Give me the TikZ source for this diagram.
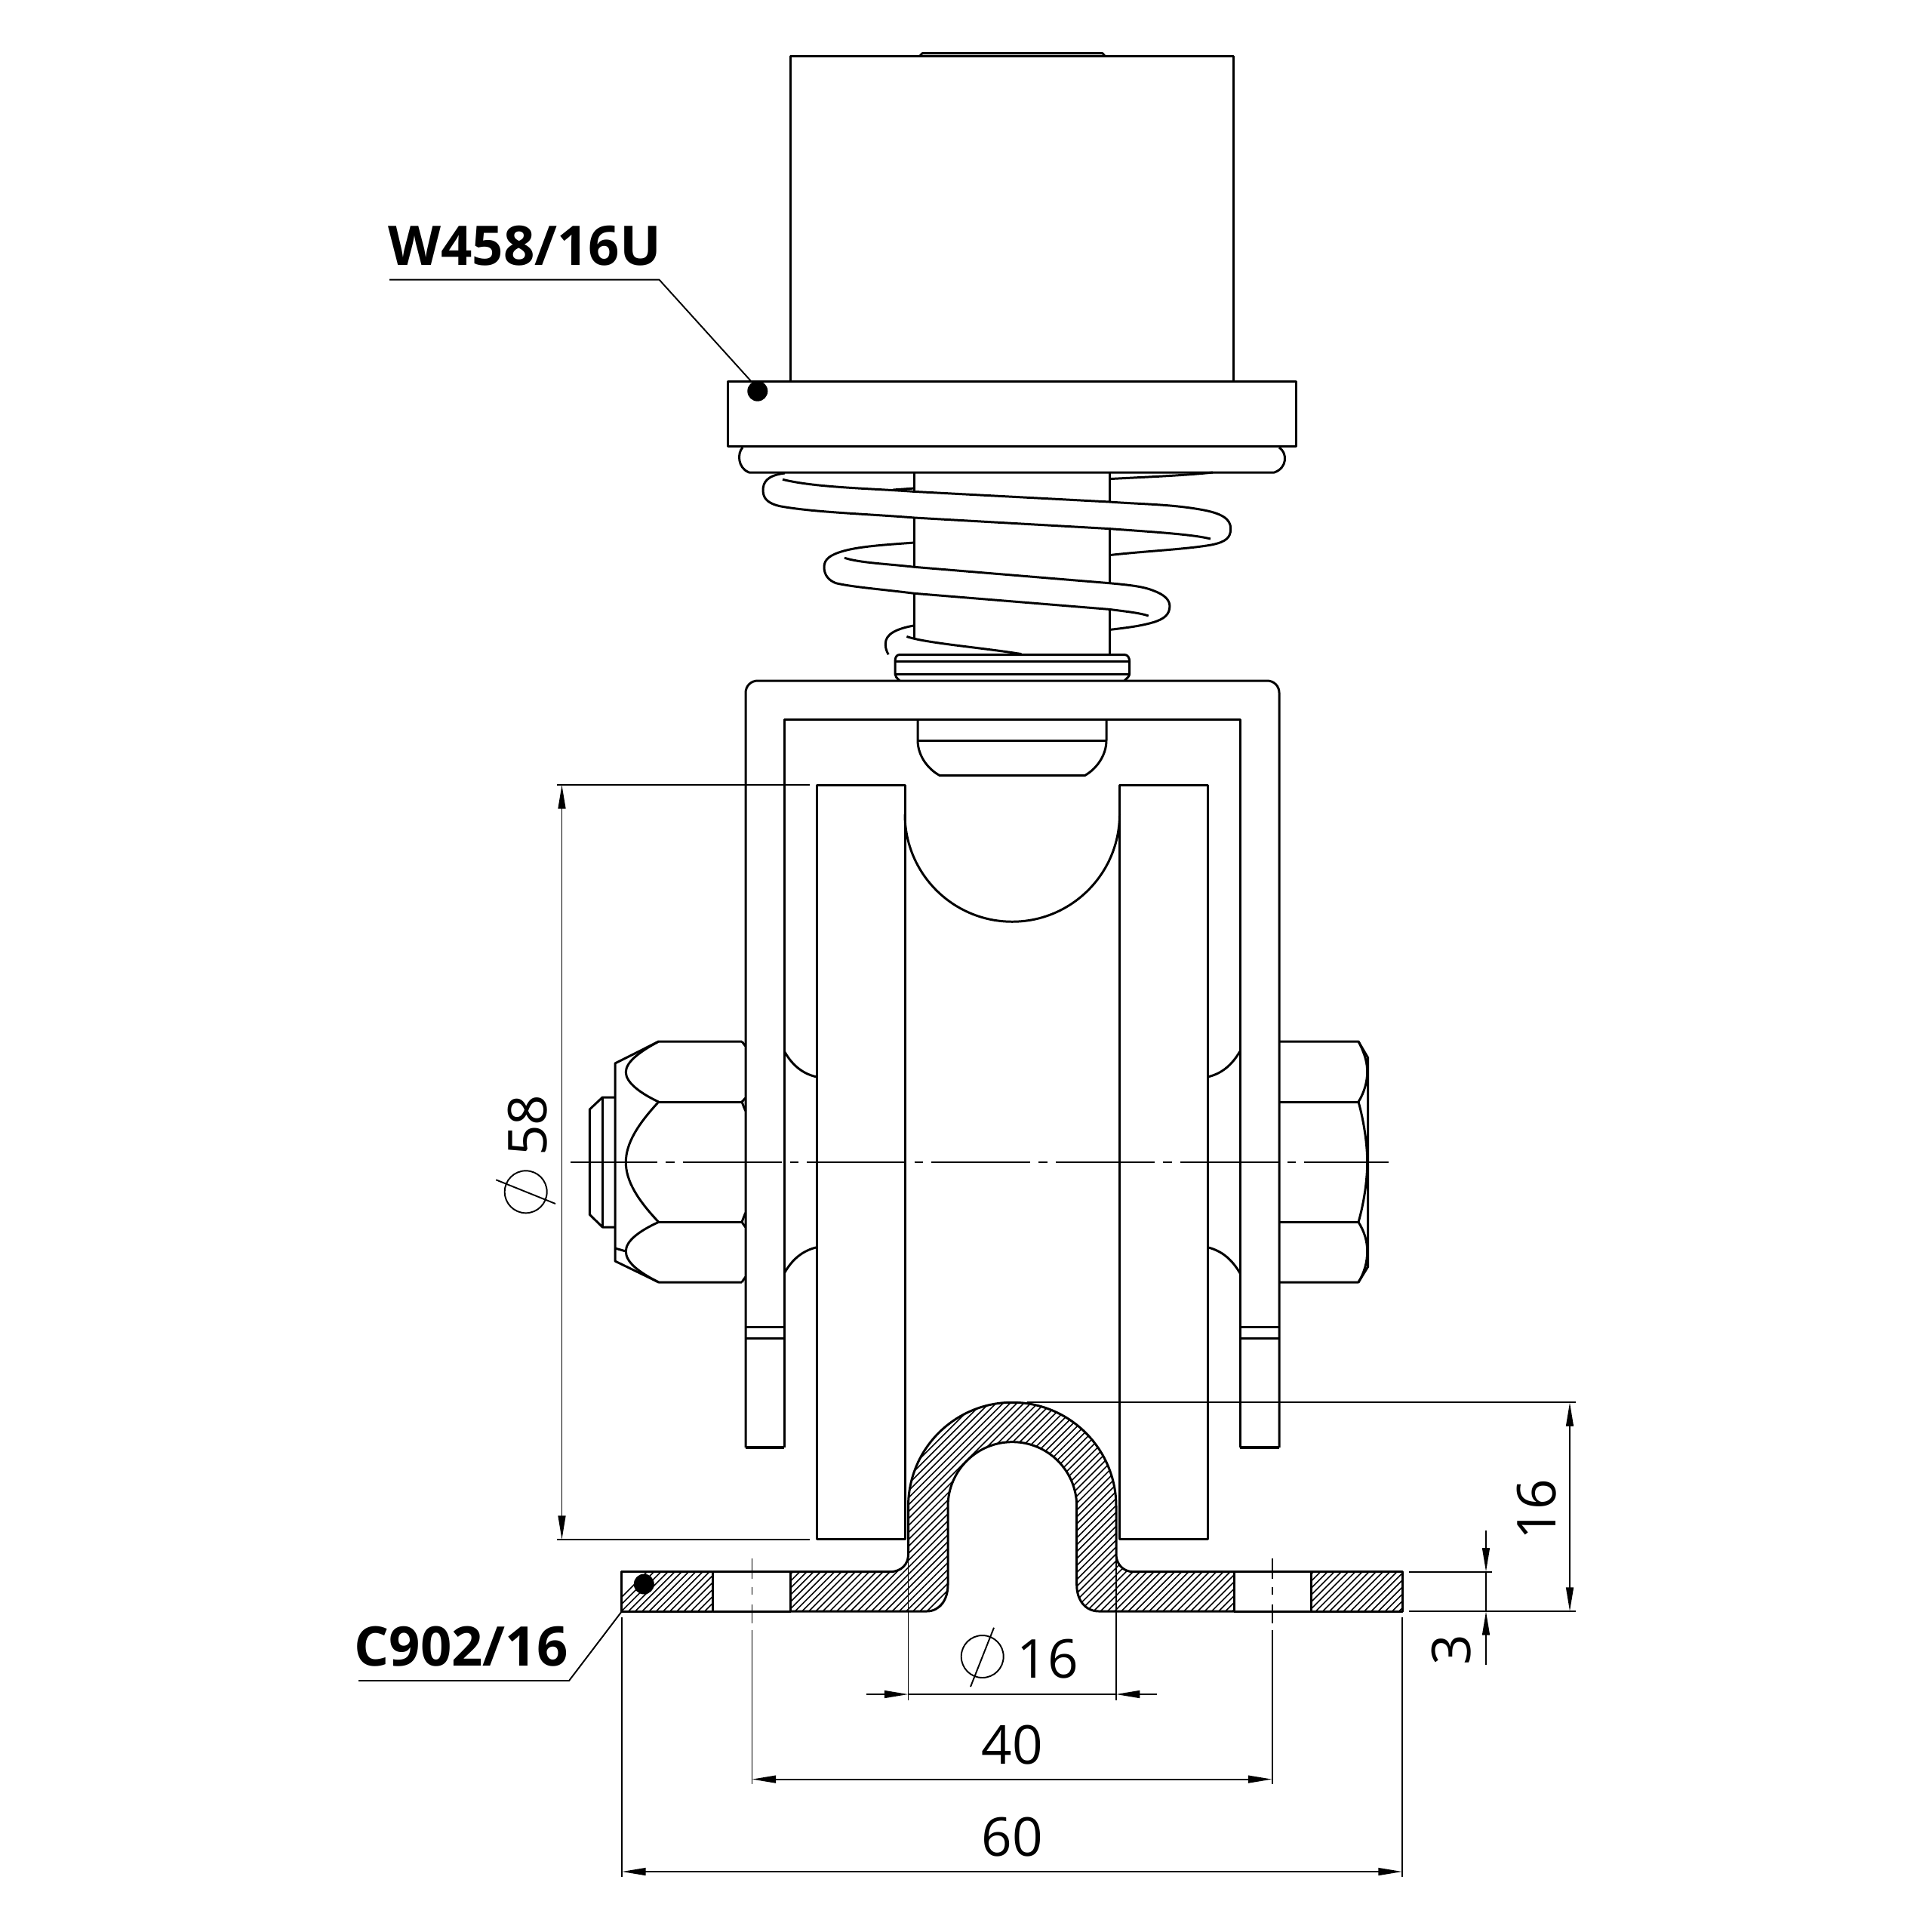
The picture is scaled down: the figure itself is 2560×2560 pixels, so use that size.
\documentclass[tikz,border=0pt]{standalone}
\usepackage{fontspec}
\setmainfont{Open Sans}
\usetikzlibrary{arrows.meta}
\tikzset{
  obj/.style={line width=0.85pt,line join=round},
  thinl/.style={line width=0.55pt},
  dimtxt/.style={inner sep=0pt,font=\fontsize{20.2}{24}\selectfont},
  reftxt/.style={inner sep=0pt,font=\fontsize{20.6}{25}\selectfont\bfseries,anchor=base},
  tipA/.tip={Triangle[length=9pt,width=2.8pt]},
  ctr/.style={line width=0.6pt},
  dimline/.style={thinl,black}
}
\begin{document}
\begin{tikzpicture}[x=0.01cm,y=-0.01cm]
\useasboundingbox (0,0) rectangle (2560,2560);
% upper block
\draw[obj] (1047.8,506) -- (1047.8,74.3) -- (1634,74.3) -- (1634,506);
\draw[obj] (1218.7,74.3) -- (1222,70.7) -- (1461,70.7) -- (1464,74.3);
\draw[obj] (964.5,505.7) rectangle (1717.7,591.8);
% top coil
\draw[obj] (984,593) .. controls (977,600) and (977,620) .. (992.6,626) -- (1688.5,626) .. controls (1706,620) and (1706,600) .. (1695,593);
% shaft
\draw[obj] (1211.5,626) -- (1211.5,651.4) (1211.5,686) -- (1211.5,751.3) (1211.5,786.3) -- (1211.5,846);
\draw[obj] (1470,626) -- (1470,665) (1470,700.6) -- (1470,772.7) (1470,807.4) -- (1470,867.5);
% coil 1
\draw[obj] (1040,627) .. controls (1015,630) and (1011,640) .. (1011,650) .. controls (1011,662) and (1020,668) .. (1035,671) .. controls (1080,679) and (1150,681) .. (1211.5,686) -- (1470,700.6) .. controls (1530,705) and (1580,708) .. (1604,714);
\draw[obj] (1037,635.3) .. controls (1080,646) and (1150,647) .. (1211.5,651.4) -- (1470,665) .. controls (1510,668) and (1550,668) .. (1590,675) .. controls (1620,680) and (1630.7,688) .. (1630.7,700.6) .. controls (1630.7,712) and (1625,718) .. (1605,722) .. controls (1570,728) and (1520,730) .. (1470,735.6);
\draw[obj] (1183.4,649) -- (1211.5,647);
\draw[obj] (1470,634.6) .. controls (1520,632) and (1570,630) .. (1607,626);
% coil 2
\draw[obj] (1211.5,719) .. controls (1170,722) and (1140,724) .. (1118,730) .. controls (1100,735) and (1092,741) .. (1092,751.3) .. controls (1092,762) and (1098,769) .. (1107.6,772.7) .. controls (1130,778) and (1170,781) .. (1211.5,786.3) -- (1470,807.4) .. controls (1490,810) and (1510,812) .. (1521.8,816);
\draw[obj] (1118.9,739.2) .. controls (1140,746) and (1175,747) .. (1211.5,751.3) -- (1470,772.7) .. controls (1495,775) and (1515,777) .. (1528.5,782.7) .. controls (1543,788) and (1549.9,795) .. (1549.9,803) .. controls (1549.9,814) and (1543,820) .. (1528.5,824.5) .. controls (1510,830) and (1490,832) .. (1470,834.5);
% coil 3
\draw[obj] (1211.5,828.8) .. controls (1188,833) and (1173.3,840) .. (1173.3,853) .. controls (1173.3,860) and (1175,863) .. (1177.2,867.3);
\draw[obj] (1201.4,843.4) .. controls (1225,852) and (1300,858) .. (1353.4,866.6);
% lower ring
\draw[obj] (1192,902) .. controls (1188,898) and (1186,896) .. (1186,893) -- (1186,876.4) .. controls (1186,871) and (1188,867.5) .. (1192,867.5) -- (1490,867.5) .. controls (1494,867.5) and (1496.6,871) .. (1496.6,876.4) -- (1496.6,893) .. controls (1496.6,896) and (1494,898) .. (1490,902);
\draw[obj] (1186,876.4) -- (1496.6,876.4) (1186,893) -- (1496.6,893);
% bracket
\draw[obj,rounded corners=4.5pt] (988,1918) -- (988,902) -- (1695,902) -- (1695,1918);
\draw[obj] (1039,1918) -- (1039,953.6) -- (1643,953.6) -- (1643,1918);
\draw[line width=1.3pt] (988,1918) -- (1039,1918) (1643,1918) -- (1695,1918);
\draw[obj] (988,1758) -- (1039,1758) (988,1773.3) -- (1039,1773.3) (1643,1758) -- (1695,1758) (1643,1773.3) -- (1695,1773.3);
% stop
\draw[obj] (1216,953.6) -- (1216,981) .. controls (1216,1000) and (1228,1018) .. (1245,1027.5) -- (1437.6,1027.5) .. controls (1454,1018) and (1466,1000) .. (1466,981) -- (1466,953.6);
\draw[obj] (1216,981) -- (1466,981);
% pulley
\draw[obj] (1082.5,1040) rectangle (1199,2039.5);
\draw[obj] (1483.5,1040) rectangle (1600,2039.5);
\draw[obj] (1199,1079) arc[start angle=180,end angle=0,radius=142.25];
\draw[obj] (1039.3,1393) .. controls (1050,1412) and (1064,1423) .. (1082.3,1427);
\draw[obj] (1039.3,1687) .. controls (1050,1668) and (1064,1657) .. (1082.3,1652.7);
\draw[obj] (1643,1393) .. controls (1632,1412) and (1618,1423) .. (1600,1427);
\draw[obj] (1643,1687) .. controls (1632,1668) and (1618,1657) .. (1600,1652.7);
% left nut
\draw[obj] (983,1380) -- (872.7,1380) -- (815,1409) -- (815,1671) -- (872.7,1699) -- (983,1699);
\draw[obj] (872.7,1460) -- (983,1460) (872.7,1619.3) -- (983,1619.3);
\draw[obj] (983,1380) -- (987.7,1386) (983,1699) -- (987.7,1692);
\draw[obj] (987.7,1455) -- (983,1460) -- (987.7,1472) (987.7,1607) -- (983,1619.3) -- (987.7,1626);
\draw[obj] (872.7,1380) .. controls (845,1395) and (829.3,1408) .. (829.3,1420.7) .. controls (829.3,1433) and (845,1447) .. (872.7,1460) .. controls (845,1490) and (829.3,1515) .. (829.3,1540) .. controls (829.3,1565) and (845,1590) .. (872.7,1619.3) .. controls (845,1632) and (829.3,1645) .. (829.3,1658) .. controls (829.3,1672) and (845,1685) .. (872.7,1699);
\draw[obj] (815,1654) -- (829.3,1658);
\draw[obj] (815,1454) -- (798.3,1454) -- (781.3,1470) -- (781.3,1609.3) -- (798.3,1626) -- (815,1626);
\draw[obj] (798.3,1454) -- (798.3,1626);
% right nut
\draw[obj] (1695,1380) -- (1800,1380) -- (1812.7,1401.7) -- (1812.7,1678.3) -- (1800,1699) -- (1695,1699);
\draw[obj] (1695,1460) -- (1800,1460) (1695,1619.3) -- (1800,1619.3);
\draw[obj] (1800,1380) .. controls (1808,1395) and (1811.7,1408) .. (1811.7,1420) .. controls (1811.7,1433) and (1808,1447) .. (1800,1460) .. controls (1807,1485) and (1811.7,1515) .. (1811.7,1540) .. controls (1811.7,1565) and (1807,1595) .. (1800,1619.3) .. controls (1808,1632) and (1811.7,1645) .. (1811.7,1658) .. controls (1811.7,1672) and (1808,1686) .. (1800,1699);
% bolt centre line
\draw[ctr,dash pattern=on 131*0.2846pt off 11*0.2846pt on 11.6*0.2846pt off 11*0.2846pt,dash phase=16*0.2846pt] (756,1540) -- (1840,1540);
% rail profile
\fill[white] (1047.7,2082.7) -- (1179,2082.7) .. controls (1195,2082.7) and (1203.5,2072) .. (1203.5,2060) -- (1203.5,1996) arc[start angle=180,end angle=360,radius=137.75] -- (1479,2060) .. controls (1479,2072) and (1488,2082.7) .. (1501.8,2082.7) -- (1635,2082.7) -- (1635,2135) -- (1456,2135) .. controls (1438,2135) and (1426.7,2120) .. (1426.7,2100) -- (1426.7,1996) arc[start angle=0,end angle=-180,radius=85.35] -- (1256,2100) .. controls (1256,2120) and (1245,2135) .. (1228,2135) -- (1047.7,2135) -- cycle;
\begin{scope}
\clip (823.9,2082.7) rectangle (944.6,2135) (1635,2082.7) rectangle (1635,2135) (1737.5,2082.7) rectangle (1858,2135)
 (1047.7,2082.7) -- (1179,2082.7) .. controls (1195,2082.7) and (1203.5,2072) .. (1203.5,2060) -- (1203.5,1996) arc[start angle=180,end angle=360,radius=137.75] -- (1479,2060) .. controls (1479,2072) and (1488,2082.7) .. (1501.8,2082.7) -- (1635,2082.7) -- (1635,2135) -- (1456,2135) .. controls (1438,2135) and (1426.7,2120) .. (1426.7,2100) -- (1426.7,1996) arc[start angle=0,end angle=-180,radius=85.35] -- (1256,2100) .. controls (1256,2120) and (1245,2135) .. (1228,2135) -- (1047.7,2135) -- cycle;
\foreach \k in {0,...,130}
  \draw[line width=0.45pt] ({800+9.2*\k},2140) -- ++(300,-300);
\end{scope}
\draw[obj] (1047.7,2082.7) -- (1179,2082.7) .. controls (1195,2082.7) and (1203.5,2072) .. (1203.5,2060) -- (1203.5,1996) arc[start angle=180,end angle=360,radius=137.75] -- (1479,2060) .. controls (1479,2072) and (1488,2082.7) .. (1501.8,2082.7) -- (1635,2082.7);
\draw[obj] (1635,2135) -- (1456,2135) .. controls (1438,2135) and (1426.7,2120) .. (1426.7,2100) -- (1426.7,1996) arc[start angle=0,end angle=-180,radius=85.35] -- (1256,2100) .. controls (1256,2120) and (1245,2135) .. (1228,2135) -- (1047.7,2135);
\draw[obj] (823.9,2082.7) rectangle (944.6,2135);
\draw[obj] (944.6,2082.7) -- (1047.7,2082.7) (944.6,2135) -- (1047.7,2135) (1047.7,2082.7) -- (1047.7,2135);
\draw[obj] (1635,2082.7) -- (1737.5,2082.7) (1635,2135) -- (1737.5,2135) (1635,2082.7) -- (1635,2135);
\draw[obj] (1737.5,2082.7) rectangle (1858,2135);
% section lines and extension lines
\draw[thinl] (1203.5,2060) -- (1203.5,2253) (1478.6,2060) -- (1478.6,2253);
\draw[thinl] (824,2143) -- (824,2487) (1858,2143) -- (1858,2487);
\draw[thinl] (996.5,2065) -- (996.5,2091.7) (996.5,2103) -- (996.5,2113) (996.5,2126) -- (996.5,2150.7) (996.5,2160) -- (996.5,2364);
\draw[thinl] (1685.6,2065) -- (1685.6,2091.7) (1685.6,2103) -- (1685.6,2113) (1685.6,2126) -- (1685.6,2150.7) (1685.6,2160) -- (1685.6,2364);
\draw[thinl] (738,1040) -- (1073,1040) (738,2040) -- (1073,2040);
\draw[thinl] (1361,1858.3) -- (2088,1858.3) (1866.7,2135) -- (2088,2135) (1866.7,2082.7) -- (1977,2082.7);
% dimensions
\draw[dimline,{tipA}-{tipA}] (744.5,1040) -- (744.5,2040);
\draw[dimline,{tipA}-{tipA}] (2080,1858.3) -- (2080,2135);
\draw[dimline,-{tipA}] (1969,2028) -- (1969,2082.7);
\draw[dimline,-{tipA}] (1969,2206) -- (1969,2135);
\draw[dimline] (1969,2082.7) -- (1969,2135);
\draw[dimline,-{tipA}] (1148,2245) -- (1203.5,2245);
\draw[dimline,-{tipA}] (1533,2245) -- (1478.6,2245);
\draw[dimline] (1203.5,2245) -- (1478.6,2245);
\draw[dimline,{tipA}-{tipA}] (996.5,2357.6) -- (1685.6,2357.6);
\draw[dimline,{tipA}-{tipA}] (824,2480) -- (1858,2480);
\node[dimtxt,rotate=90] (d58) at (699,1491) {58};
\draw[thinl] (696.7,1579.3) circle[radius=28];
\draw[thinl] (657.3,1563.3) -- (736,1595);
\node[dimtxt,rotate=90] (d16a) at (2036,2000) {16};
\node[dimtxt,rotate=90] (d3) at (1923,2186) {3};
\node[dimtxt] (d16b) at (1388,2198) {16};
\draw[thinl] (1301.7,2195) circle[radius=28];
\draw[thinl] (1317,2156.7) -- (1286,2235);
\node[dimtxt] (d40) at (1341,2312) {40};
\node[dimtxt] (d60) at (1341,2434) {60};
% references
\node[reftxt] (w) at (695,351) {W458/16U};
\coordinate (wa) at (516,370.6);
\coordinate (wb) at (873.5,370.6);
\coordinate (wc) at (996,506);
\draw[thinl] (wa) -- (wb) -- (wc);
\fill (1003.8,518.2) circle[radius=13.5];
\node[reftxt] (c) at (611,2207) {C902/16};
\coordinate (ca) at (475,2227);
\coordinate (cb) at (754,2227);
\coordinate (cc) at (824,2135);
\draw[thinl] (ca) -- (cb) -- (cc);
\fill (853.3,2099) circle[radius=13.5];
\end{tikzpicture}
\end{document}
